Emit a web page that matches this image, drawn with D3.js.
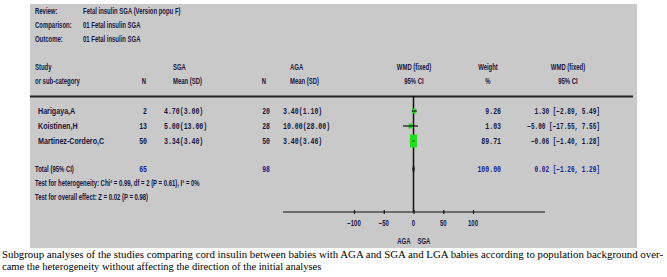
<!DOCTYPE html>
<html><head><meta charset="utf-8">
<script src="https://cdn.jsdelivr.net/npm/d3@7"></script>
<style>html,body{margin:0;padding:0;background:#fff;}svg{display:block;}</style>
</head><body>
<script>
// ---- data ----
const headerLabels = ["Review:", "Comparison:", "Outcome:"];
const headerValues = ["Fetal insulin SGA (Version popu F)", "01 Fetal insulin SGA", "01 Fetal insulin SGA"];
const studies = ["Harigaya,A", "Koistinen,H", "Martinez-Cordero,C"];
const sgaN = [2, 13, 50];
const sgaMean = [4.70, 5.00, 3.34];
const sgaSD = [3.00, 13.00, 3.40];
const agaN = [20, 28, 50];
const agaMean = [3.40, 10.00, 3.40];
const agaSD = [1.10, 28.00, 3.46];
const weights = [9.26, 1.03, 89.71];
const wmd = [1.30, -5.00, -0.06];
const ciLow = [-2.89, -17.55, -1.40];
const ciHigh = [5.49, 7.55, 1.28];
const total = {sgaN: 65, agaN: 98, weight: 100.00, wmd: 0.02, lo: -1.26, hi: 1.29};
const axisTicks = [-100, -50, 0, 50, 100];
const favourLabels = ["AGA", "SGA"];
const heterogeneityText = "Test for heterogeneity: Chi\u00B2 = 0.99, df = 2 (P = 0.61), I\u00B2 = 0%";
const overallText = "Test for overall effect: Z = 0.02 (P = 0.98)";
const caption1 = "Subgroup analyses of the studies comparing cord insulin between babies with AGA and SGA and LGA babies according to population background over-";
const caption2 = "came the heterogeneity without affecting the direction of the initial analyses";

// ---- drawing ----
const W = 667, H = 277;
const svg = d3.select("body").append("svg").attr("width", W).attr("height", H);
const SANS = "'Liberation Sans', Arial, sans-serif";
const MONO = "'Liberation Mono', 'DejaVu Sans Mono', monospace";
const SERIF = "'Liberation Serif', 'Times New Roman', serif";
const NAVY = "#15153f", BLUE = "#1a1a8c";

svg.append("rect").attr("x", 30).attr("y", 4).attr("width", 607).attr("height", 244).attr("fill", "#c9c9c9");

function txt(x, y, s, o = {}) {
  const t = svg.append("text")
    .attr("transform", `translate(${x},${y}) scale(${o.sx ?? 0.7},1)`)
    .attr("text-anchor", o.anchor || "start")
    .attr("font-family", o.font || SANS)
    .attr("font-size", o.size || 8.5)
    .attr("font-weight", o.weight || "bold")
    .attr("fill", o.fill || NAVY)
    .text(s);
  return t;
}
const f2 = d3.format(".2f");

// header block
headerLabels.forEach((l, i) => {
  txt(35, 14 + i * 14, l);
  txt(83, 14 + i * 14, headerValues[i]);
});

// column headers
txt(35, 70, "Study"); txt(35, 84, "or sub-category");
txt(144, 84, "N", {anchor: "middle"});
txt(173, 70, "SGA"); txt(173, 84, "Mean (SD)");
txt(264, 84, "N", {anchor: "middle"});
txt(290, 70, "AGA"); txt(290, 84, "Mean (SD)");
txt(414, 70, "WMD (fixed)", {anchor: "middle"}); txt(414, 84, "95% CI", {anchor: "middle"});
txt(488, 70, "Weight", {anchor: "middle"}); txt(488, 84, "%", {anchor: "middle"});
txt(568, 70, "WMD (fixed)", {anchor: "middle"}); txt(568, 84, "95% CI", {anchor: "middle"});

svg.append("line").attr("x1", 30).attr("x2", 633).attr("y1", 96.5).attr("y2", 96.5)
  .attr("stroke", "#222").attr("stroke-width", 2);

// scales
const x = d3.scaleLinear().domain([-100, 100]).range([354, 473]);
const rowY = d3.scaleLinear().domain([0, 1]).range([114, 129]);
const mono = {font: MONO, sx: 0.8, size: 8.2};

studies.forEach((s, i) => {
  const y = rowY(i);
  txt(38, y, s, {size: 9.4, sx: 0.76});
  txt(147, y, sgaN[i], {...mono, anchor: "end"});
  txt(164, y, `${f2(sgaMean[i])}(${f2(sgaSD[i])})`, mono);
  txt(270, y, agaN[i], {...mono, anchor: "end"});
  txt(283, y, `${f2(agaMean[i])}(${f2(agaSD[i])})`, mono);
  txt(501, y, f2(weights[i]), {...mono, anchor: "end"});
  txt(600, y, `${f2(wmd[i])} [${f2(ciLow[i])}, ${f2(ciHigh[i])}]`, {...mono, anchor: "end", sx: 0.74});
});

const totY = 172;
txt(35, totY, "Total (95% CI)");
txt(147, totY, total.sgaN, {...mono, anchor: "end", fill: BLUE});
txt(270, totY, total.agaN, {...mono, anchor: "end", fill: BLUE});
txt(501, totY, f2(total.weight), {...mono, anchor: "end", fill: BLUE});
txt(600, totY, `${f2(total.wmd)} [${f2(total.lo)}, ${f2(total.hi)}]`, {...mono, anchor: "end", sx: 0.74, fill: BLUE});
txt(35, 186, heterogeneityText);
txt(35, 200, overallText);

// forest plot
const axisY = 212;
svg.append("line").attr("x1", x(0)).attr("x2", x(0)).attr("y1", 96).attr("y2", axisY)
  .attr("stroke", "#111").attr("stroke-width", 1.5);

studies.forEach((s, i) => {
  const yc = rowY(i) - 3;
  const h = Math.max(5, 1.37 * Math.sqrt(weights[i]));
  const w = Math.max(4, 0.55 * h);
  svg.append("rect").attr("x", x(wmd[i]) - w / 2).attr("y", yc - h / 2)
    .attr("width", w).attr("height", h).attr("fill", "#1fdc1f");
  svg.append("line").attr("x1", x(ciLow[i])).attr("x2", x(ciHigh[i])).attr("y1", yc).attr("y2", yc)
    .attr("stroke", "#111").attr("stroke-width", 1.2);
});
// total diamond
const dy = totY - 3;
svg.append("path").attr("d", `M${x(total.lo)},${dy} L${x(total.wmd)},${dy - 4} L${x(total.hi)},${dy} L${x(total.wmd)},${dy + 4} Z`)
  .attr("fill", "#111").attr("stroke", "#111").attr("stroke-width", 0.8);

// axis
const axis = d3.axisBottom(x).tickValues(axisTicks).tickSize(2).tickFormat(d3.format("d"));
const ag = svg.append("g").attr("transform", `translate(0,${axisY})`).call(axis);
ag.select(".domain").remove();
ag.selectAll(".tick line").attr("y1", -2).attr("y2", 2).attr("stroke", "#111").attr("stroke-width", 1.2);
ag.selectAll(".tick text").remove();
svg.append("line").attr("x1", 283).attr("x2", 545).attr("y1", axisY).attr("y2", axisY)
  .attr("stroke", "#111").attr("stroke-width", 1.2);
axisTicks.forEach(t => txt(x(t), 226, d3.format("d")(t), {anchor: "middle"}));
txt(x(0) - 3, 244, favourLabels[0], {anchor: "end"});
txt(x(0) + 4, 244, favourLabels[1]);

// caption
svg.append("text").attr("x", 2).attr("y", 258).attr("font-family", SERIF).attr("font-size", 10.5)
  .attr("fill", "#000").attr("textLength", 661).attr("lengthAdjust", "spacingAndGlyphs").text(caption1);
svg.append("text").attr("x", 2).attr("y", 270).attr("font-family", SERIF).attr("font-size", 10.5)
  .attr("fill", "#000").text(caption2);
</script>
</body></html>
